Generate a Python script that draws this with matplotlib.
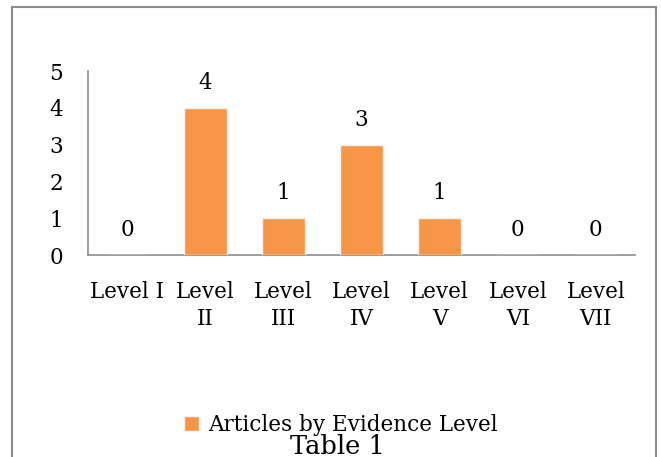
import matplotlib
matplotlib.use("Agg")
import matplotlib.pyplot as plt
from matplotlib.patches import Rectangle

categories = ["Level I", "Level\nII", "Level\nIII", "Level\nIV", "Level\nV", "Level\nVI", "Level\nVII"]
values = [0, 4, 1, 3, 1, 0, 0]
series_name = "Articles by Evidence Level"
yticks = [0, 1, 2, 3, 4, 5]

plt.rcParams['font.family'] = ['DejaVu Serif']
FS = 15.5

W, H = 661, 457
fig = plt.figure(figsize=(W / 100, H / 100), dpi=100)

# outer border
fig.patches.append(Rectangle((12 / W, -0.05), (656 - 12) / W, 1.05 - 7 / H,
                             transform=fig.transFigure, fill=False,
                             edgecolor='#8c8c8c', linewidth=1.5))

ax = fig.add_axes([88 / W, (H - 255) / H, (635 - 88) / W, (255 - 71) / H])
x = list(range(len(categories)))
bars = ax.bar(x, values, width=0.55, color='#F79646', edgecolor='#f2f2f2',
              linewidth=1.0, label=series_name, zorder=3)
for xi, v in zip(x, values):
    ax.text(xi, v + 0.68, str(v), ha='center', va='center', fontsize=FS)

ax.set_xlim(-0.5, len(categories) - 0.5)
ax.set_ylim(0, 5)
ax.set_yticks(yticks)
ax.set_xticks(x)
ax.set_xticklabels(categories, fontsize=FS, linespacing=1.3)
ax.tick_params(axis='y', length=0, pad=18, labelsize=FS)
ax.tick_params(axis='x', length=0, pad=19)
for s in ['top', 'right']:
    ax.spines[s].set_visible(False)
for s in ['left', 'bottom']:
    ax.spines[s].set_color('#8c8c8c')
    ax.spines[s].set_linewidth(1.2)

fig.legend(handles=[bars], labels=[series_name], loc='center',
           bbox_to_anchor=(341 / W, 1 - 425 / H), frameon=False,
           fontsize=FS, handlelength=0.7, handleheight=0.7, handletextpad=0.4)
fig.text(337 / W, 1 - 446 / H, "Table 1", ha='center', va='center', fontsize=18.5)

fig.savefig("out.png", dpi=100)
